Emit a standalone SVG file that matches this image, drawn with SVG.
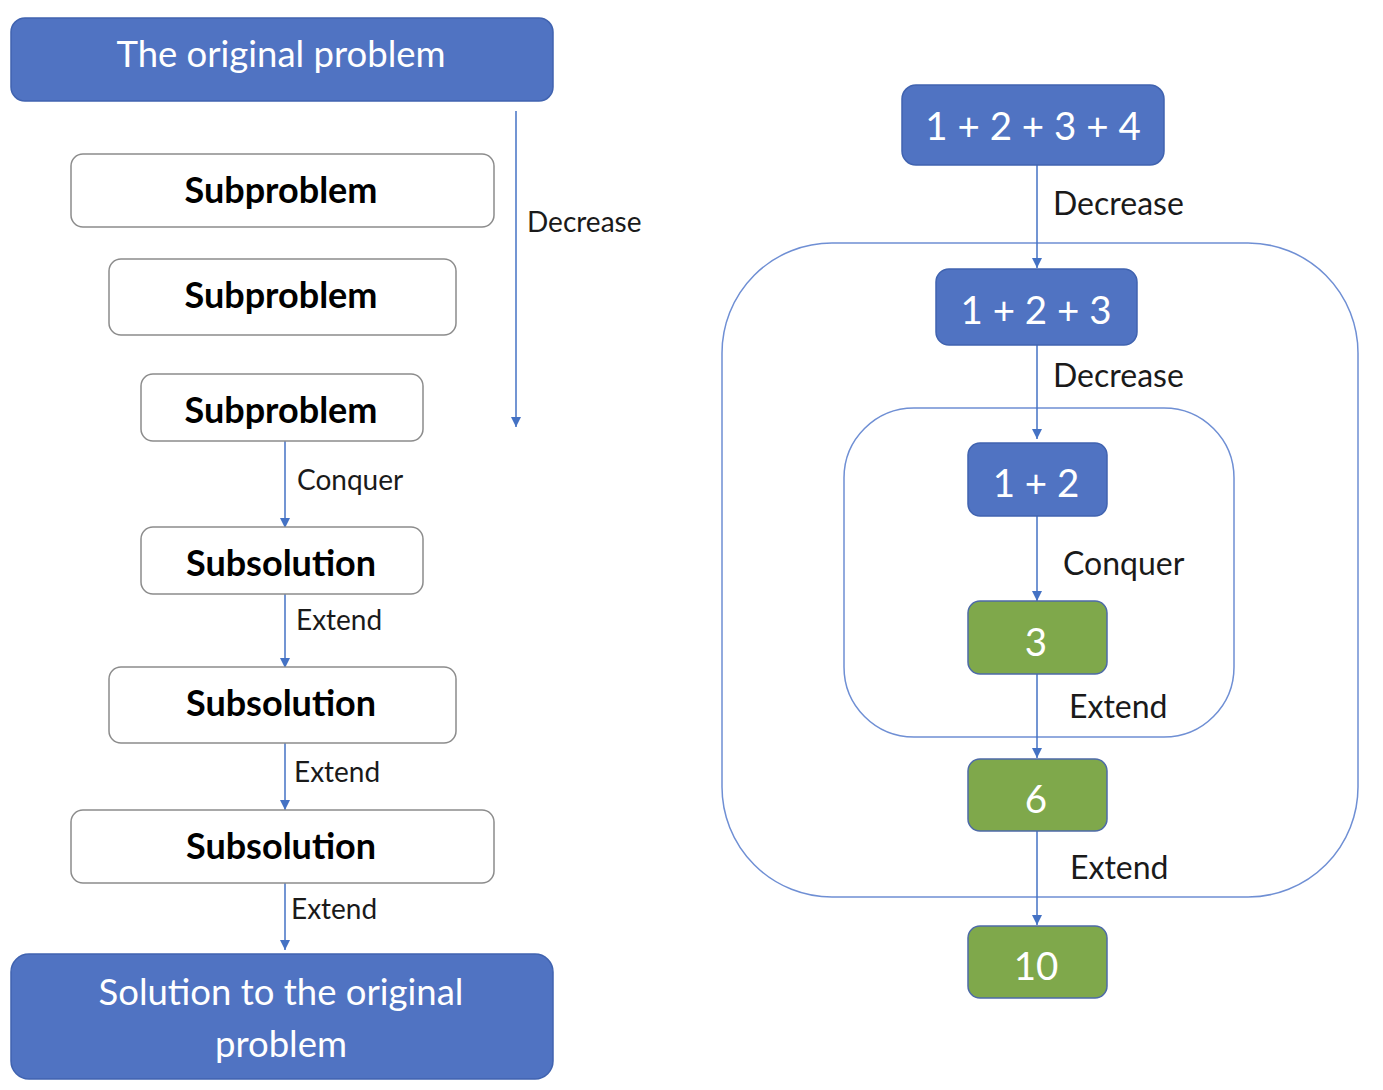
<svg xmlns="http://www.w3.org/2000/svg" width="1383" height="1090" viewBox="0 0 1383 1090">
<defs>
<marker id="ah" viewBox="0 0 10 10" refX="10" refY="5" markerWidth="10" markerHeight="10" markerUnits="userSpaceOnUse" orient="auto">
<path d="M0,0 L10,5 L0,10 z" fill="#4472c4"/>
</marker>
<style>
.blue{fill:#5073c2;stroke:#4063b0;stroke-width:1.5}
.green{fill:#7fa84b;stroke:#4d6aa8;stroke-width:1.5}
.white{fill:#ffffff;stroke:#8c8c8c;stroke-width:1.5}
.cont{fill:none;stroke:#6f8fd4;stroke-width:1.5}
.wt{font-family:Lato,"Open Sans",sans-serif;fill:#ffffff;text-anchor:middle}
.bt{font-family:Lato,"Open Sans",sans-serif;fill:#000000;font-weight:bold;text-anchor:middle;font-size:36px}
.lbl{font-family:Lato,"Open Sans",sans-serif;fill:#1a1a1a;font-size:28px}
.lblr{font-family:Lato,"Open Sans",sans-serif;fill:#1a1a1a;font-size:32px}
.conn line{stroke:#4472c4;stroke-width:1.5;marker-end:url(#ah)}
</style>
</defs>
<rect width="1383" height="1090" fill="#ffffff"/>
<g id="container-outer"><rect class="cont" x="722" y="243" width="636" height="654" rx="110"/></g>
<g id="container-inner"><rect class="cont" x="844" y="408" width="390" height="329" rx="70"/></g>
<g class="conn" id="connectors">
<line x1="516" y1="111" x2="516" y2="427"/>
<line x1="285" y1="441" x2="285" y2="528"/>
<line x1="285" y1="594" x2="285" y2="668"/>
<line x1="285" y1="743" x2="285" y2="810"/>
<line x1="285" y1="883" x2="285" y2="950"/>
<line x1="1037" y1="165" x2="1037" y2="268"/>
<line x1="1037" y1="345" x2="1037" y2="439"/>
<line x1="1037" y1="516" x2="1037" y2="601"/>
<line x1="1037" y1="674" x2="1037" y2="758"/>
<line x1="1037" y1="831" x2="1037" y2="925"/>
</g>
<g id="labels">
<text class="lbl" x="527" y="232">Decrease</text>
<text class="lbl" x="297" y="490">Conquer</text>
<text class="lbl" x="296" y="630">Extend</text>
<text class="lbl" x="294" y="782">Extend</text>
<text class="lbl" x="291" y="919">Extend</text>
<text class="lblr" x="1053" y="215">Decrease</text>
<text class="lblr" x="1053" y="387">Decrease</text>
<text class="lblr" x="1063" y="575">Conquer</text>
<text class="lblr" x="1069" y="718">Extend</text>
<text class="lblr" x="1070" y="879">Extend</text>
</g>
<g id="original"><rect class="blue" x="11" y="18" width="542" height="83" rx="14"/><text class="wt" x="281" y="67" font-size="36.5">The original problem</text></g>
<g id="sub1"><rect class="white" x="71" y="154" width="423" height="73" rx="12"/><text class="bt" x="281" y="203">Subproblem</text></g>
<g id="sub2"><rect class="white" x="109" y="259" width="347" height="76" rx="12"/><text class="bt" x="281" y="308">Subproblem</text></g>
<g id="sub3"><rect class="white" x="141" y="374" width="282" height="67" rx="12"/><text class="bt" x="281" y="423">Subproblem</text></g>
<g id="sol1"><rect class="white" x="141" y="527" width="282" height="67" rx="12"/><text class="bt" x="281" y="576">Subsolution</text></g>
<g id="sol2"><rect class="white" x="109" y="667" width="347" height="76" rx="12"/><text class="bt" x="281" y="716">Subsolution</text></g>
<g id="sol3"><rect class="white" x="71" y="810" width="423" height="73" rx="12"/><text class="bt" x="281" y="859">Subsolution</text></g>
<g id="final"><rect class="blue" x="11" y="954" width="542" height="125" rx="18"/><text class="wt" x="281" y="1005" font-size="36.5">Solution to the original</text><text class="wt" x="281" y="1057" font-size="36.5">problem</text></g>
<g id="n1234"><rect class="blue" x="902" y="85" width="262" height="80" rx="14"/><text class="wt" x="1033" y="140" font-size="38.5">1 + 2 + 3 + 4</text></g>
<g id="n123"><rect class="blue" x="936" y="269" width="201" height="76" rx="13"/><text class="wt" x="1036" y="324" font-size="38.5">1 + 2 + 3</text></g>
<g id="n12"><rect class="blue" x="968" y="443" width="139" height="73" rx="12"/><text class="wt" x="1036" y="497" font-size="38.5">1 + 2</text></g>
<g id="n3"><rect class="green" x="968" y="601" width="139" height="73" rx="12"/><text class="wt" x="1036" y="656" font-size="38.5">3</text></g>
<g id="n6"><rect class="green" x="968" y="759" width="139" height="72" rx="12"/><text class="wt" x="1036" y="813" font-size="38.5">6</text></g>
<g id="n10"><rect class="green" x="968" y="926" width="139" height="72" rx="12"/><text class="wt" x="1036" y="980" font-size="38.5">10</text></g>
</svg>
